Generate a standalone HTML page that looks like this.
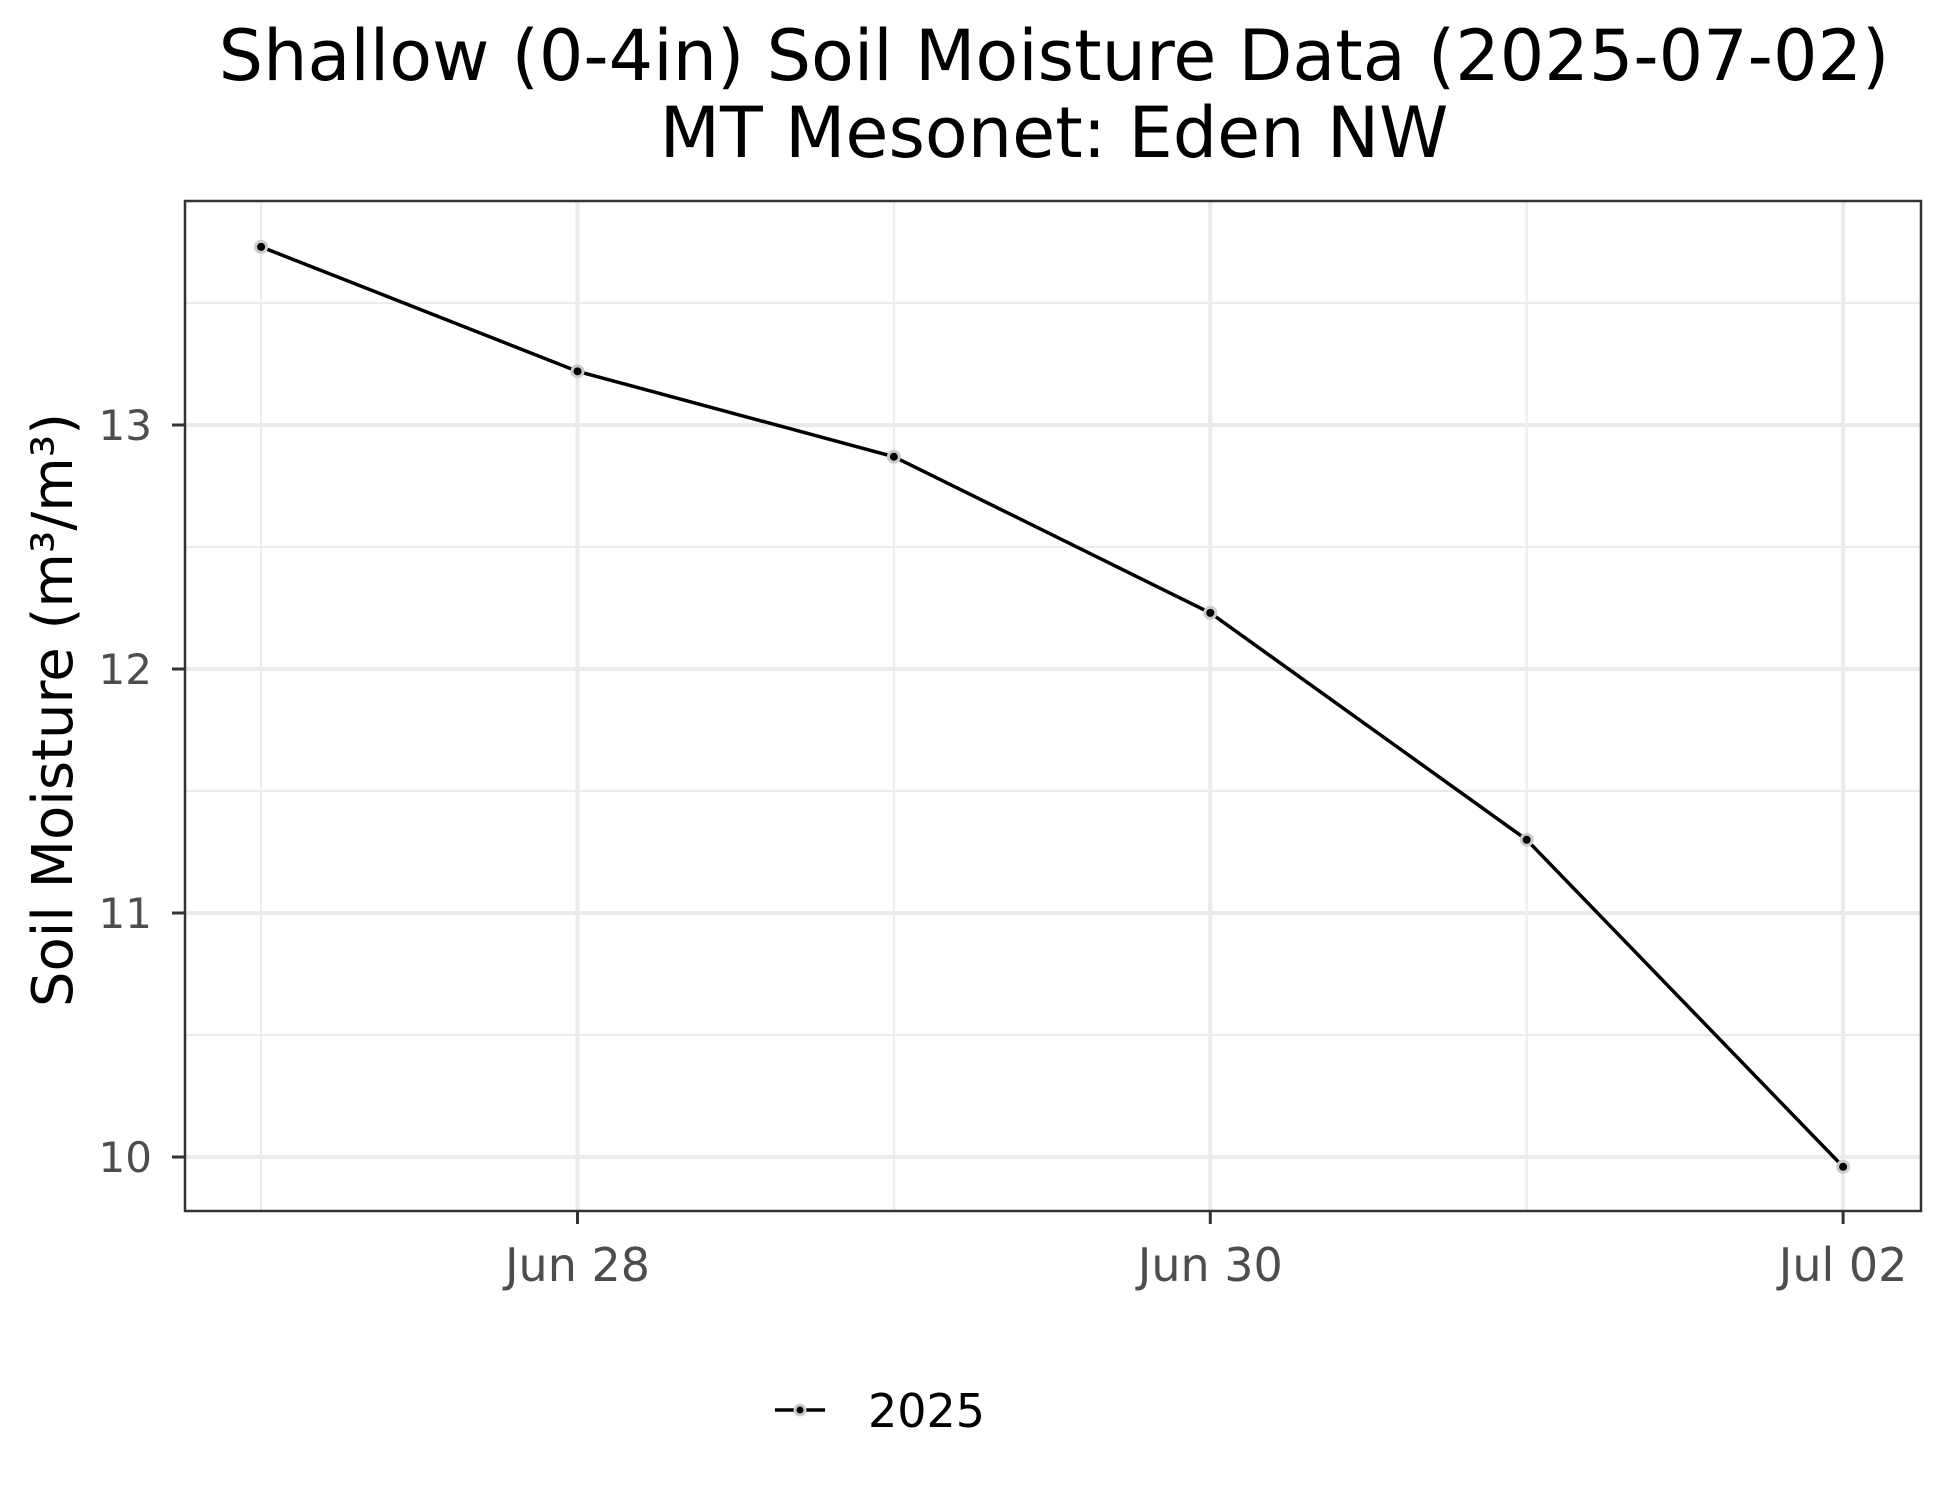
<!DOCTYPE html>
<html><head><meta charset="utf-8"><style>
html,body{margin:0;padding:0;background:#fff;}
svg{display:block;font-family:"DejaVu Sans","Liberation Sans",sans-serif;}
</style></head><body>
<svg id="chart" width="1950" height="1500" viewBox="0 0 1950 1500">
<rect width="1950" height="1500" fill="#fff"/>
<text x="1054" y="80" text-anchor="middle" font-size="70" fill="#000">Shallow (0-4in) Soil Moisture Data (2025-07-02)</text>
<text x="1054" y="157" text-anchor="middle" font-size="70" fill="#000">MT Mesonet: Eden NW</text>
<g id="grid"></g>
<g id="axes"></g>
<g id="series"></g>
<rect x="185" y="201" width="1736" height="1010" fill="none" stroke="#333" stroke-width="2.5"/>
<text transform="translate(72,710) rotate(-90)" text-anchor="middle" font-size="56" fill="#000">Soil Moisture (m³/m³)</text>
<g>
<line x1="775" y1="1410" x2="825" y2="1410" stroke="#000" stroke-width="3.5"/>
<circle cx="800" cy="1410" r="5" fill="#000" stroke="#ccc" stroke-width="3"/>
<text x="868" y="1427" font-size="46" fill="#000">2025</text>
</g>
</svg>
<script>
const dayOffsets = [-1, 0, 1, 2, 3, 4];
const moisture = [13.73, 13.22, 12.87, 12.23, 11.30, 9.96];
const yTicks = [10, 11, 12, 13];
const xTickDays = [0, 2, 4];
const xTickLabels = ["Jun 28", "Jun 30", "Jul 02"];
const seriesName = "2025";

const NS = "http://www.w3.org/2000/svg";
function xs(d){ return 577.5 + d * 316.4; }
function ys(v){ return 1157 - (v - 10) * 244; }
function mk(tag, attrs, parent){
  const e = document.createElementNS(NS, tag);
  for (const k in attrs) e.setAttribute(k, attrs[k]);
  parent.appendChild(e);
  return e;
}
const grid = document.getElementById('grid');
const axes = document.getElementById('axes');
const series = document.getElementById('series');
for (let v = 9.5; v <= 14; v += 1) {
  const y = ys(v);
  if (y < 201 || y > 1211) continue;
  const l = mk('line', {x1:185, x2:1921, y1:y, y2:y, stroke:'#ebebeb', 'stroke-width':2}, grid);
  
  
}
for (let d = -1; d <= 5; d += 2) {
  const x = xs(d);
  if (x < 185 || x > 1921) continue;
  const l = mk('line', {x1:x, x2:x, y1:201, y2:1211, stroke:'#ebebeb', 'stroke-width':2}, grid);
  
  
}
yTicks.forEach(v => {
  const y = ys(v);
  const l = mk('line', {x1:185, x2:1921, y1:y, y2:y, stroke:'#ebebeb', 'stroke-width':4}, grid);
  
  
  const t = mk('line', {x1:172, x2:185, y1:y, y2:y, stroke:'#333', 'stroke-width':3}, axes);
  
  
  const tx = mk('text', {x:152, y:y+15, 'text-anchor':'end', 'font-size':42, fill:'#4d4d4d'}, axes);
  tx.textContent = String(v);
  
  
});
xTickDays.forEach((d, i) => {
  const x = xs(d);
  const l = mk('line', {x1:x, x2:x, y1:201, y2:1211, stroke:'#ebebeb', 'stroke-width':4}, grid);
  
  
  const t = mk('line', {x1:x, x2:x, y1:1211, y2:1224, stroke:'#333', 'stroke-width':3}, axes);
  
  
  const tx = mk('text', {x:x, y:1281, 'text-anchor':'middle', 'font-size':46, fill:'#4d4d4d'}, axes);
  tx.textContent = xTickLabels[i];
  
  
});
const pts = dayOffsets.map((d, i) => xs(d) + ',' + ys(moisture[i])).join(' ');
const line = mk('polyline', {points:pts, fill:'none', stroke:'#000', 'stroke-width':3.5}, series);


dayOffsets.forEach((d, i) => {
  const c = mk('circle', {cx:xs(d), cy:ys(moisture[i]), r:5.5, fill:'#000', stroke:'#ccc', 'stroke-width':3}, series);
  
  
});
</script>
</body></html>
